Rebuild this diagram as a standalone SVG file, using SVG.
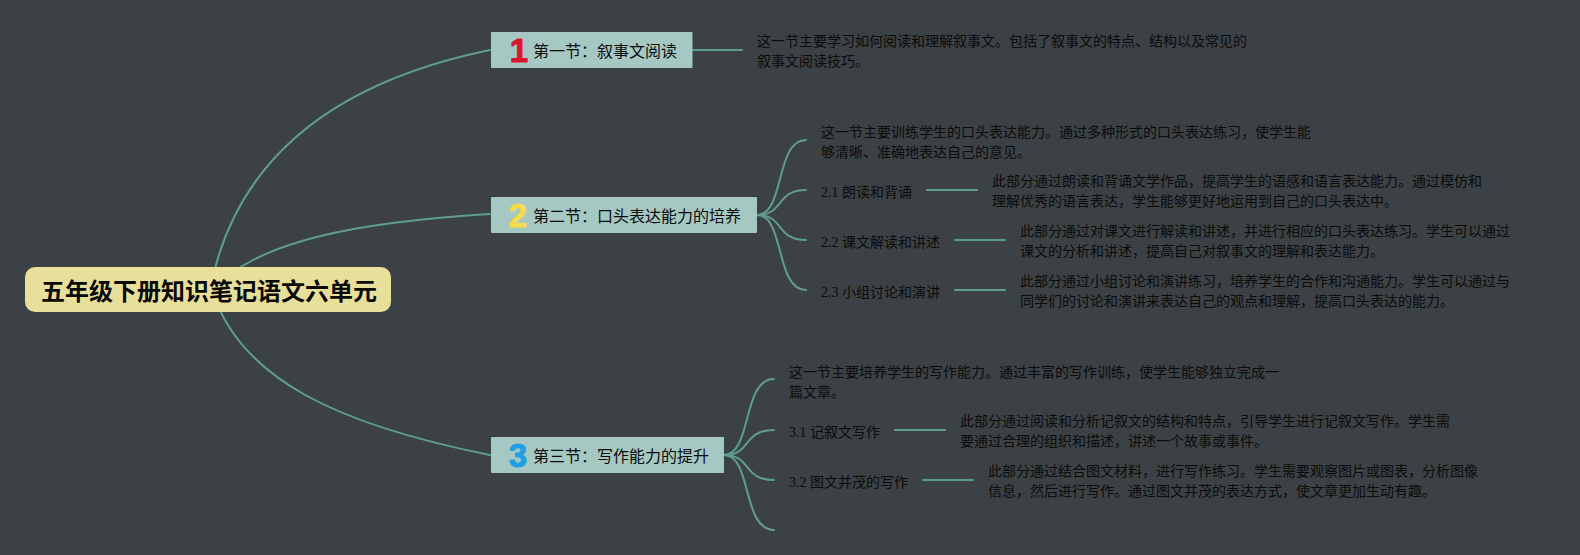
<svg xmlns="http://www.w3.org/2000/svg" width="1580" height="555" viewBox="0 0 1580 555">
<style>
text{font-family:"Liberation Serif","Noto Sans CJK SC",serif;fill:#0c0c0c;font-size:14px;dominant-baseline:central}
.c{fill:none;stroke:#5f9e8e;stroke-width:2;stroke-linecap:round}
.t{fill:#a5c8c2}
.n{font-size:16px;fill:#0c0c0c}
.i{font-family:"Liberation Sans",sans-serif;font-weight:700;font-size:33px;text-anchor:middle;stroke-width:1;stroke-linejoin:round}
</style>
<rect width="1580" height="555" fill="#3b4144"/>
<g id="connectors">
<path class="c" d="M210 290C233 170 320 85 490 50"/>
<path class="c" d="M212 290C258 240 360 222 490 214"/>
<path class="c" d="M212 290C240 380 340 425 490 455"/>
<path class="c" d="M692 50H742"/>
<path class="c" d="M757 215C785 215 775 140 806 140"/>
<path class="c" d="M757 215C785 215 775 190 806 190"/>
<path class="c" d="M757 215C785 215 775 240 806 240"/>
<path class="c" d="M757 215C785 215 775 290 806 290"/>
<path class="c" d="M927 190H977"/>
<path class="c" d="M955 240H1005"/>
<path class="c" d="M955 290H1005"/>
<path class="c" d="M724 455C752 455 742 379 774 379"/>
<path class="c" d="M724 455C752 455 742 430 774 430"/>
<path class="c" d="M724 455C752 455 742 480 774 480"/>
<path class="c" d="M724 455C752 455 742 530 774 530"/>
<path class="c" d="M895 430H945"/>
<path class="c" d="M923 480H973"/>
</g>
<g id="root">
<rect x="25" y="267" width="366" height="45" rx="10" fill="#e8df9b"/>
<text x="41" y="291" style="font-size:24px;font-weight:700;fill:#0a0a0a;font-family:'Liberation Sans','Noto Sans CJK SC',sans-serif">五年级下册知识笔记语文六单元</text>
</g>
<g id="node1">
<rect class="t" x="491" y="32" width="201.500" height="36" rx="1"/>
<text class="i" x="519" y="50" stroke="#d91530" style="fill:#d91530">1</text>
<text class="n" x="533" y="51">第一节：叙事文阅读</text>
</g>
<g id="detail1">
<text x="757" y="41.500">这一节主要学习如何阅读和理解叙事文。包括了叙事文的特点、结构以及常见的</text>
<text x="757" y="61.500">叙事文阅读技巧。</text>
</g>
<g id="node2">
<rect class="t" x="491" y="197" width="266" height="36" rx="1"/>
<text class="i" x="518" y="215" stroke="#f4dc4a" style="fill:#f4dc4a">2</text>
<text class="n" x="533" y="216">第二节：口头表达能力的培养</text>
</g>
<g id="detail2">
<text x="821" y="132">这一节主要训练学生的口头表达能力。通过多种形式的口头表达练习，使学生能</text>
<text x="821" y="152">够清晰、准确地表达自己的意见。</text>
</g>
<g id="node21">
<text x="821" y="192">2.1 朗读和背诵</text>
<text x="992" y="181">此部分通过朗读和背诵文学作品，提高学生的语感和语言表达能力。通过模仿和</text>
<text x="992" y="201">理解优秀的语言表达，学生能够更好地运用到自己的口头表达中。</text>
</g>
<g id="node22">
<text x="821" y="242">2.2 课文解读和讲述</text>
<text x="1020" y="231">此部分通过对课文进行解读和讲述，并进行相应的口头表达练习。学生可以通过</text>
<text x="1020" y="251">课文的分析和讲述，提高自己对叙事文的理解和表达能力。</text>
</g>
<g id="node23">
<text x="821" y="292">2.3 小组讨论和演讲</text>
<text x="1020" y="281">此部分通过小组讨论和演讲练习，培养学生的合作和沟通能力。学生可以通过与</text>
<text x="1020" y="301">同学们的讨论和演讲来表达自己的观点和理解，提高口头表达的能力。</text>
</g>
<g id="node3">
<rect class="t" x="491" y="437" width="233" height="36" rx="1"/>
<text class="i" x="518" y="455" stroke="#1f9fe5" style="fill:#1f9fe5">3</text>
<text class="n" x="533" y="456">第三节：写作能力的提升</text>
</g>
<g id="detail3">
<text x="789" y="372">这一节主要培养学生的写作能力。通过丰富的写作训练，使学生能够独立完成一</text>
<text x="789" y="392">篇文章。</text>
</g>
<g id="node31">
<text x="789" y="432">3.1 记叙文写作</text>
<text x="960" y="421">此部分通过阅读和分析记叙文的结构和特点，引导学生进行记叙文写作。学生需</text>
<text x="960" y="441">要通过合理的组织和描述，讲述一个故事或事件。</text>
</g>
<g id="node32">
<text x="789" y="482">3.2 图文并茂的写作</text>
<text x="988" y="471">此部分通过结合图文材料，进行写作练习。学生需要观察图片或图表，分析图像</text>
<text x="988" y="491">信息，然后进行写作。通过图文并茂的表达方式，使文章更加生动有趣。</text>
</g>
</svg>
